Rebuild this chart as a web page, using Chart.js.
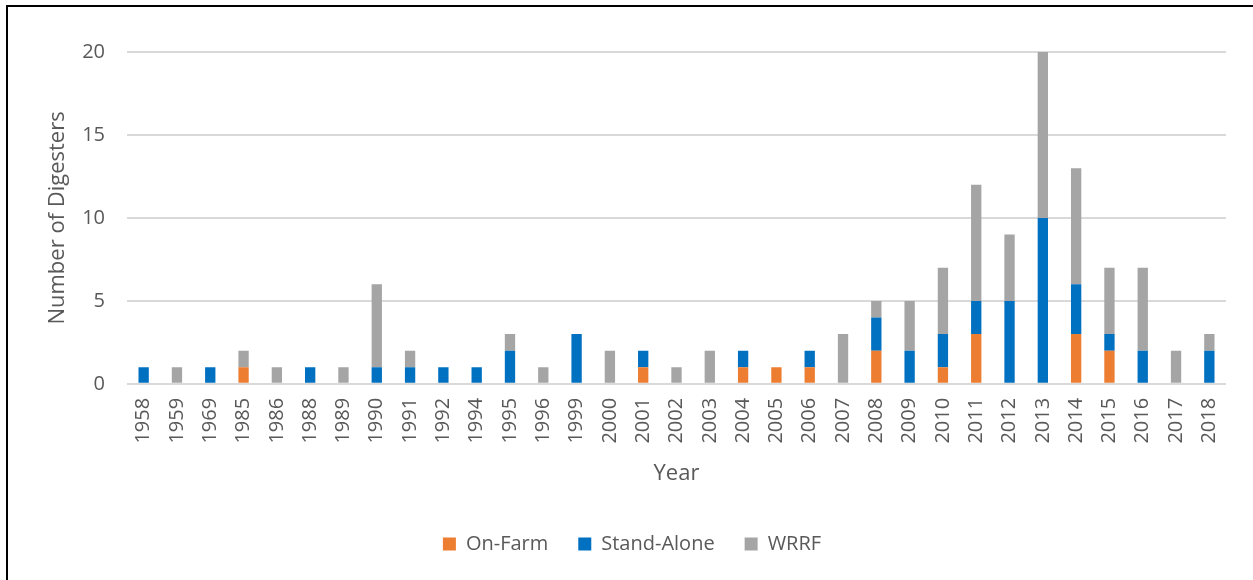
<!DOCTYPE html>
<html>
<head>
<meta charset="utf-8">
<script src="https://cdn.jsdelivr.net/npm/chart.js@4"></script>
<style>
  html, body { margin: 0; padding: 0; background: #fff; overflow: hidden; }
  #frame { position: absolute; left: 6px; top: 5px; width: 1260px; height: 590px; border: 2px solid #000; background: #fff; }
  #wrap { position: absolute; left: 0; top: 0; width: 1245px; height: 573px; }
</style>
</head>
<body>
<div id="frame"><div id="wrap"><canvas id="c"></canvas></div></div>
<script>
const years = ['1958','1959','1969','1985','1986','1988','1989','1990','1991','1992','1994','1995','1996','1999','2000','2001','2002','2003','2004','2005','2006','2007','2008','2009','2010','2011','2012','2013','2014','2015','2016','2017','2018'];
const onFarm     = [0,0,0,1,0,0,0,0,0,0,0,0,0,0,0,1,0,0,1,1,1,0,2,0,1,3,0,0,3,2,0,0,0];
const standAlone = [1,0,1,0,0,1,0,1,1,1,1,2,0,3,0,1,0,0,1,0,1,0,2,2,2,2,5,10,3,1,2,0,2];
const wrrf       = [0,1,0,1,1,0,1,5,1,0,0,1,1,0,2,0,1,2,0,0,0,3,1,3,4,7,4,10,7,4,5,2,1];
const yTicks = [0, 5, 10, 15, 20];

const FONT = 'Open Sans';
const TXT = '#595959';

new Chart(document.getElementById('c'), {
  type: 'bar',
  data: {
    labels: years,
    datasets: [
      { label: 'On-Farm', data: onFarm, backgroundColor: '#ED7D31' },
      { label: 'Stand-Alone', data: standAlone, backgroundColor: '#0070C0' },
      { label: 'WRRF', data: wrrf, backgroundColor: '#A5A5A5' }
    ]
  },
  options: {
    responsive: true,
    maintainAspectRatio: false,
    animation: false,
    layout: { padding: { left: 30, right: 27, top: 45, bottom: 16 } },
    datasets: { bar: { categoryPercentage: 1.0, barPercentage: 0.31 } },
    scales: {
      x: {
        stacked: true,
        grid: { display: false },
        border: { display: false },
        ticks: { color: TXT, font: { family: FONT, size: 20 }, minRotation: 90, maxRotation: 90, padding: 6, autoSkip: false },
        title: { display: true, text: 'Year', color: TXT, font: { family: FONT, size: 22 }, padding: { top: 11, bottom: 17 } }
      },
      y: {
        stacked: true,
        min: 0, max: 20,
        afterBuildTicks: (s) => { s.ticks = yTicks.map(v => ({ value: v })); },
        afterFit: (s) => { s.width = 89; },
        grid: { color: '#d9d9d9', lineWidth: 2, drawTicks: false },
        border: { display: false },
        ticks: { color: TXT, font: { family: FONT, size: 20 }, padding: 22 },
        title: { display: true, text: 'Number of Digesters', color: TXT, font: { family: FONT, size: 22 }, padding: { top: 7, bottom: 0 } }
      }
    },
    plugins: {
      legend: {
        position: 'bottom',
        labels: { color: TXT, font: { family: FONT, size: 20 }, boxWidth: 13, boxHeight: 13, padding: 30 }
      },
      tooltip: { enabled: false }
    }
  }
});
</script>
</body>
</html>
